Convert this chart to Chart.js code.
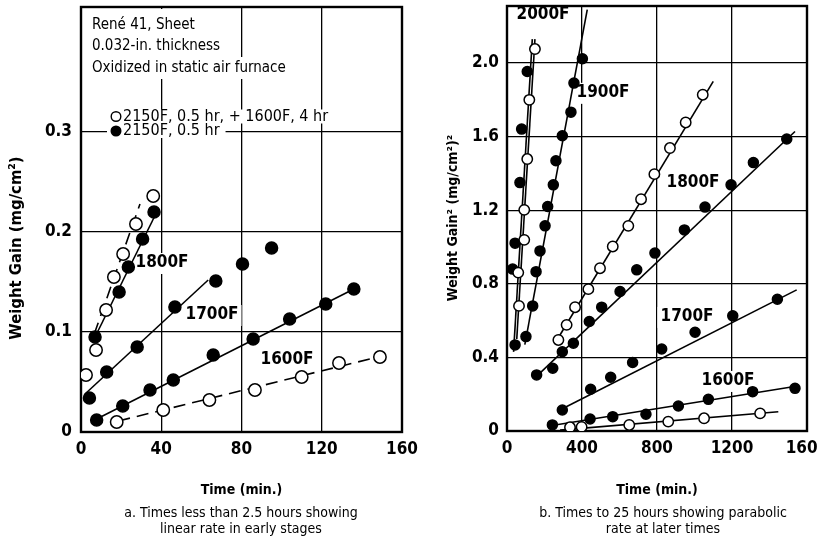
<!DOCTYPE html>
<html>
<head>
<meta charset="utf-8">
<script src="https://cdn.jsdelivr.net/npm/chart.js@4.4.1/dist/chart.umd.min.js"></script>
<style>
  body { margin: 0; background: #fff; width: 818px; height: 550px; position: relative; overflow: hidden; }
  canvas { position: absolute; top: 0; }
  #chartA { left: 0; }
  #chartB { left: 420px; }
  .cap { position: absolute; top: 504px; width: 320px; text-align: center; line-height: 21px;
         font: 14px 'Liberation Sans Narrow', 'DejaVu Sans Condensed', sans-serif; color: #000; }
</style>
</head>
<body>
<canvas id="chartA" width="420" height="505"></canvas>
<canvas id="chartB" width="398" height="505"></canvas>
<div class="cap" style="left:81px">a. Times less than 2.5 hours showing<br>linear rate in early stages</div>
<div class="cap" style="left:503px">b. Times to 25 hours showing parabolic<br>rate at later times</div>
<script>
const FONT = "'Liberation Sans Narrow', 'DejaVu Sans Condensed', sans-serif";

// a. weight gain (mg/cm2) vs time (min)
const aXTicks = [0, 40, 80, 120, 160];
const aXLabels = ['0', '40', '80', '120', '160'];
const aYTicks = [0, 0.1, 0.2, 0.3];
const aYLabels = ['0', '0.1', '0.2', '0.3'];

const a1800Open = [[2.5, 0.057], [7.5, 0.082], [12.5, 0.122], [16.4, 0.155], [21, 0.178], [27.4, 0.208], [36, 0.236]];
const a1800Filled = [[7, 0.095], [19, 0.14], [23.6, 0.165], [30.7, 0.193], [36.4, 0.22]];
const a1700Filled = [[4.2, 0.034], [12.8, 0.06], [28, 0.085], [46.8, 0.125], [67.2, 0.151], [80.5, 0.168], [95, 0.184]];
const a1600Filled = [[7.8, 0.012], [20.8, 0.026], [34.4, 0.042], [46, 0.052], [65.9, 0.077], [85.8, 0.093], [104, 0.113], [122, 0.128], [136, 0.143]];
const a1600Open = [[17.8, 0.01], [41, 0.022], [64, 0.032], [86.7, 0.042], [110, 0.055], [128.6, 0.069], [149, 0.075]];

// hand-drawn fit lines
const a1800OpenFit = [[6.6, 0.098], [29.4, 0.228]];
const a1800FilledFit = [[7, 0.095], [38.5, 0.223]];
const a1700Fit = [[2, 0.038], [63.4, 0.152]];
const a1600FilledFit = [[7.8, 0.013], [137, 0.144]];
const a1600OpenFit = [[18.6, 0.011], [148, 0.075]];

// b. weight gain squared vs time (min)
const bXTicks = [0, 400, 800, 1200, 1600];
const bXLabels = ['0', '400', '800', '1200', '1600'];
const bYTicks = [0, 0.4, 0.8, 1.2, 1.6, 2.0];
const bYLabels = ['0', '0.4', '0.8', '1.2', '1.6', '2.0'];

const b2000Open = [[64, 0.68], [60, 0.861], [92, 1.039], [92, 1.202], [108, 1.478], [119, 1.8], [149, 2.076]];
const b2000Filled = [[43, 0.468], [30, 0.88], [43, 1.021], [69, 1.35], [78, 1.641], [108, 1.954]];
const b1900Filled = [[101, 0.513], [137, 0.68], [155, 0.866], [176, 0.979], [203, 1.115], [217, 1.22], [247, 1.338], [261, 1.469], [295, 1.605], [341, 1.733], [357, 1.891], [402, 2.023]];
const b1800Open = [[274, 0.495], [318, 0.577], [363, 0.673], [434, 0.771], [496, 0.885], [564, 1.003], [647, 1.115], [715, 1.26], [786, 1.396], [869, 1.538], [953, 1.677], [1044, 1.828]];
const b1800Filled = [[158, 0.305], [244, 0.341], [295, 0.431], [354, 0.477], [439, 0.595], [505, 0.673], [603, 0.758], [692, 0.876], [789, 0.967], [946, 1.093], [1056, 1.217], [1195, 1.338], [1314, 1.459], [1492, 1.587]];
const b1700Filled = [[295, 0.114], [446, 0.227], [553, 0.292], [670, 0.372], [825, 0.446], [1003, 0.537], [1204, 0.626], [1442, 0.716]];
const b1600Filled = [[242, 0.033], [443, 0.065], [564, 0.078], [741, 0.091], [914, 0.136], [1074, 0.172], [1310, 0.214], [1536, 0.232]];
const b1600Open = [[336, 0.02], [398, 0.022], [652, 0.033], [860, 0.051], [1051, 0.069], [1350, 0.096]];

const b2000OpenFit = [[52, 0.5], [149, 2.13]];
const b2000FilledFit = [[35, 0.43], [135, 2.13]];
const b1900Fit = [[95, 0.47], [428, 2.29]];
const b1800OpenFit = [[256, 0.477], [1100, 1.9]];
const b1800FilledFit = [[160, 0.3], [1536, 1.628]];
const b1700Fit = [[282, 0.114], [1545, 0.767]];
const b1600FilledFit = [[240, 0.03], [1550, 0.245]];
const b1600OpenFit = [[283, 0.005], [1447, 0.105]];

// text placed on the plots
const aNotes = ['René 41, Sheet', '0.032-in. thickness', 'Oxidized in static air furnace'];
const aLegend = ['2150F, 0.5 hr, + 1600F, 4 hr', '2150F, 0.5 hr'];
const aTempLabels = [['1800F', 40.4, 0.169], ['1700F', 65.3, 0.117], ['1600F', 102.7, 0.072]];
const bTempLabels = [['2000F', 192, 2.263], ['1900F', 512, 1.838], ['1800F', 992, 1.349], ['1700F', 960, 0.62], ['1600F', 1179, 0.272]];

Chart.defaults.font.family = FONT;
Chart.defaults.color = '#000';

const xy = arr => arr.map(p => ({ x: p[0], y: p[1] }));

function points(arr, open, r) {
  return {
    data: xy(arr), showLine: false, pointRadius: r, pointHoverRadius: r,
    pointBackgroundColor: open ? '#fff' : '#000', pointBorderColor: '#000', pointBorderWidth: 1.5, order: 1
  };
}

function fitLine(arr, dashed) {
  return {
    data: xy(arr), showLine: true, borderColor: '#000', borderWidth: 1.6,
    borderDash: dashed ? [12, 7] : [], pointRadius: 0, order: 2
  };
}

function labelBox(ctx, text, x, y) {
  const w = ctx.measureText(text).width;
  ctx.fillStyle = '#fff';
  ctx.fillRect(x - w / 2 - 3, y - 10, w + 6, 21);
  ctx.fillStyle = '#000';
  ctx.textAlign = 'center';
  ctx.textBaseline = 'middle';
  ctx.fillText(text, x, y);
}

const plotText = {
  id: 'plotText',
  beforeDatasetsDraw(chart, args, opts) {
    const ctx = chart.ctx, a = chart.chartArea;
    const sx = chart.scales.x, sy = chart.scales.y;
    ctx.save();

    ctx.font = '15px ' + FONT;
    ctx.textAlign = 'left';
    ctx.textBaseline = 'middle';
    (opts.notes || []).forEach((t, i) => {
      const y = 25 + i * 21.5;
      const w = ctx.measureText(t).width;
      const top = i === 0 ? a.top + 2 : y - 11;
      ctx.fillStyle = '#fff';
      ctx.fillRect(89, top, w + 6, y + 11 - top);
      ctx.fillStyle = '#000';
      ctx.fillText(t, 92, y);
    });
    ctx.font = '16px ' + FONT;
    (opts.legend || []).forEach((t, i) => {
      const y = 116.5 + i * 14.5;
      const w = ctx.measureText(t).width;
      ctx.fillStyle = '#fff';
      ctx.fillRect(107, y - 7, w + 22, 14);
      ctx.fillStyle = '#000';
      ctx.fillText(t, 123, y);
      ctx.beginPath();
      ctx.arc(116, y, 4.8, 0, Math.PI * 2);
      ctx.fillStyle = i === 0 ? '#fff' : '#000';
      ctx.fill();
      ctx.lineWidth = 1.4;
      ctx.stroke();
    });

    ctx.font = 'bold 17px ' + FONT;
    (opts.labels || []).forEach(l => {
      labelBox(ctx, l[0], sx.getPixelForValue(l[1]), sy.getPixelForValue(l[2]));
    });

    // frame round the plot
    ctx.strokeStyle = '#000';
    ctx.lineWidth = 2.4;
    ctx.strokeRect(a.left, a.top, a.right - a.left, a.bottom - a.top);

    ctx.font = 'bold ' + opts.titleSize + 'px ' + FONT;
    ctx.translate(opts.titleX, opts.titleY);
    ctx.rotate(-Math.PI / 2);
    ctx.fillStyle = '#000';
    ctx.textAlign = 'center';
    ctx.textBaseline = 'middle';
    ctx.fillText(opts.yTitle, 0, 0);
    ctx.restore();
  }
};

function axis(min, max, ticks, labels, size, pad) {
  return {
    type: 'linear', min: min, max: max,
    afterBuildTicks: s => { s.ticks = ticks.map(v => ({ value: v })); },
    afterFit: s => {
      if (s.isHorizontal()) s.height = size; else s.width = size;
      s.paddingLeft = s.paddingRight = s.paddingTop = s.paddingBottom = 0;
    },
    grid: { color: '#000', lineWidth: 1.3, drawTicks: false },
    border: { display: false },
    ticks: { autoSkip: false, maxRotation: 0, padding: pad, font: { size: 17, weight: 'bold' }, callback: (v, i) => labels[i] }
  };
}

function options(pad, xScale, yScale, textOpts) {
  return {
    responsive: false, animation: false,
    layout: { padding: pad, autoPadding: false },
    plugins: { legend: { display: false }, tooltip: { enabled: false }, plotText: textOpts },
    scales: { x: xScale, y: yScale }
  };
}

const axA = axis(0, 160, aXTicks, aXLabels, 73, 7);
axA.title = { display: true, text: 'Time (min.)', font: { size: 14, weight: 'bold' }, padding: { top: 0, bottom: 6 } };
const ayA = axis(0, 0.425, aYTicks, aYLabels, 81, 9);

new Chart(document.getElementById('chartA'), {
  type: 'scatter',
  data: {
    datasets: [
      points(a1800Open, true, 6.2), points(a1800Filled, false, 6),
      points(a1700Filled, false, 6), points(a1600Filled, false, 6), points(a1600Open, true, 6.2),
      fitLine(a1800OpenFit, true), fitLine(a1800FilledFit, false), fitLine(a1700Fit, false),
      fitLine(a1600FilledFit, false), fitLine(a1600OpenFit, true)
    ]
  },
  options: options({ top: 7, right: 18, left: 0, bottom: 0 }, axA, ayA,
    { notes: aNotes, legend: aLegend, labels: aTempLabels, yTitle: 'Weight Gain (mg/cm²)', titleX: 17, titleY: 248, titleSize: 16.5 }),
  plugins: [plotText]
});

const axB = axis(0, 1600, bXTicks, bXLabels, 74, 7);
axB.title = { display: true, text: 'Time (min.)', font: { size: 14, weight: 'bold' }, padding: { top: 0, bottom: 6 } };
const ayB = axis(0, 2.31, bYTicks, bYLabels, 87, 8);

new Chart(document.getElementById('chartB'), {
  type: 'scatter',
  data: {
    datasets: [
      points(b2000Open, true, 5.2), points(b2000Filled, false, 5),
      points(b1900Filled, false, 5), points(b1800Open, true, 5.2), points(b1800Filled, false, 5),
      points(b1700Filled, false, 5), points(b1600Filled, false, 5), points(b1600Open, true, 5.2),
      fitLine(b2000OpenFit, false), fitLine(b2000FilledFit, false), fitLine(b1900Fit, false),
      fitLine(b1800OpenFit, false), fitLine(b1800FilledFit, false), fitLine(b1700Fit, false),
      fitLine(b1600FilledFit, false), fitLine(b1600OpenFit, false)
    ]
  },
  options: options({ top: 6, right: 11, left: 0, bottom: 0 }, axB, ayB,
    { labels: bTempLabels, yTitle: 'Weight Gain² (mg/cm²)²', titleX: 33, titleY: 218, titleSize: 14 }),
  plugins: [plotText]
});
</script>
</body>
</html>
